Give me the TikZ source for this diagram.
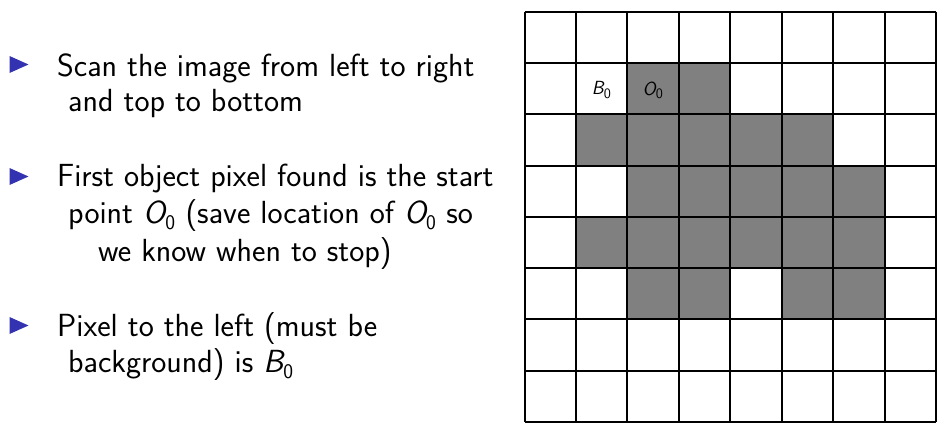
\documentclass[tikz,border=0pt]{standalone}
\newcommand\symB{{\slshape B}$_{\mathsf{0}}$}
\newcommand\symO{{\slshape O}$_{\mathsf{0}}$}
\begin{document}
\begin{tikzpicture}[x=1pt,y=-1pt]
\definecolor{bul}{rgb}{0.2,0.2,0.7}
\definecolor{obj}{gray}{0.5}
\tikzset{
  txt/.style={anchor=base west, inner sep=0pt, font=\sffamily\fontsize{32}{36}\selectfont},
  lbl/.style={inner sep=0pt, font=\sffamily\fontsize{19}{23}\selectfont},
  grid line/.style={line width=2pt, black},
  bulletmark/.style={fill=bul}
}
\useasboundingbox (0,0) rectangle (946,443);
% bullets
\fill[bulletmark] (9.5,56) -- (28.5,64.5) -- (9.5,73) -- cycle;
\fill[bulletmark] (9.5,168) -- (28.5,176.5) -- (9.5,185) -- cycle;
\fill[bulletmark] (9.5,317) -- (28.5,325.5) -- (9.5,334) -- cycle;
% text
\node[txt] (l1a) at (57,76.5) {Scan the image from left to right};
\node[txt] (l1b) at (68,112) {and top to bottom};
\node[txt] (l2a) at (57,187) {First object pixel found is the start};
\node[txt] (l2b) at (68,224) {point \symO{} (save location of \symO{} so};
\node[txt] (l2c) at (98,262) {we know when to stop)};
\node[txt] (l3a) at (57,337) {Pixel to the left (must be};
\node[txt] (l3b) at (68,373) {background) is \symB};
% grid
\def\gx{524.5}\def\gy{12}\def\cw{51.44}\def\ch{51.25}
\foreach \r/\c in {1/2,1/3,
                   2/1,2/2,2/3,2/4,2/5,
                   3/2,3/3,3/4,3/5,3/6,
                   4/1,4/2,4/3,4/4,4/5,4/6,
                   5/2,5/3,5/5,5/6}{
  \fill[obj] ({\gx+\c*\cw},{\gy+\r*\ch}) rectangle ({\gx+(\c+1)*\cw},{\gy+(\r+1)*\ch});
}
\foreach \i in {0,...,8}{
  \draw[grid line] ({\gx+\i*\cw},\gy) -- ({\gx+\i*\cw},{\gy+8*\ch});
  \draw[grid line] (\gx,{\gy+\i*\ch}) -- ({\gx+8*\cw},{\gy+\i*\ch});
}
\node[lbl] (b0) at ({\gx+1.5*\cw},90) {\symB};
\node[lbl] (o0) at ({\gx+2.5*\cw},90) {\symO};
\end{tikzpicture}
\end{document}
